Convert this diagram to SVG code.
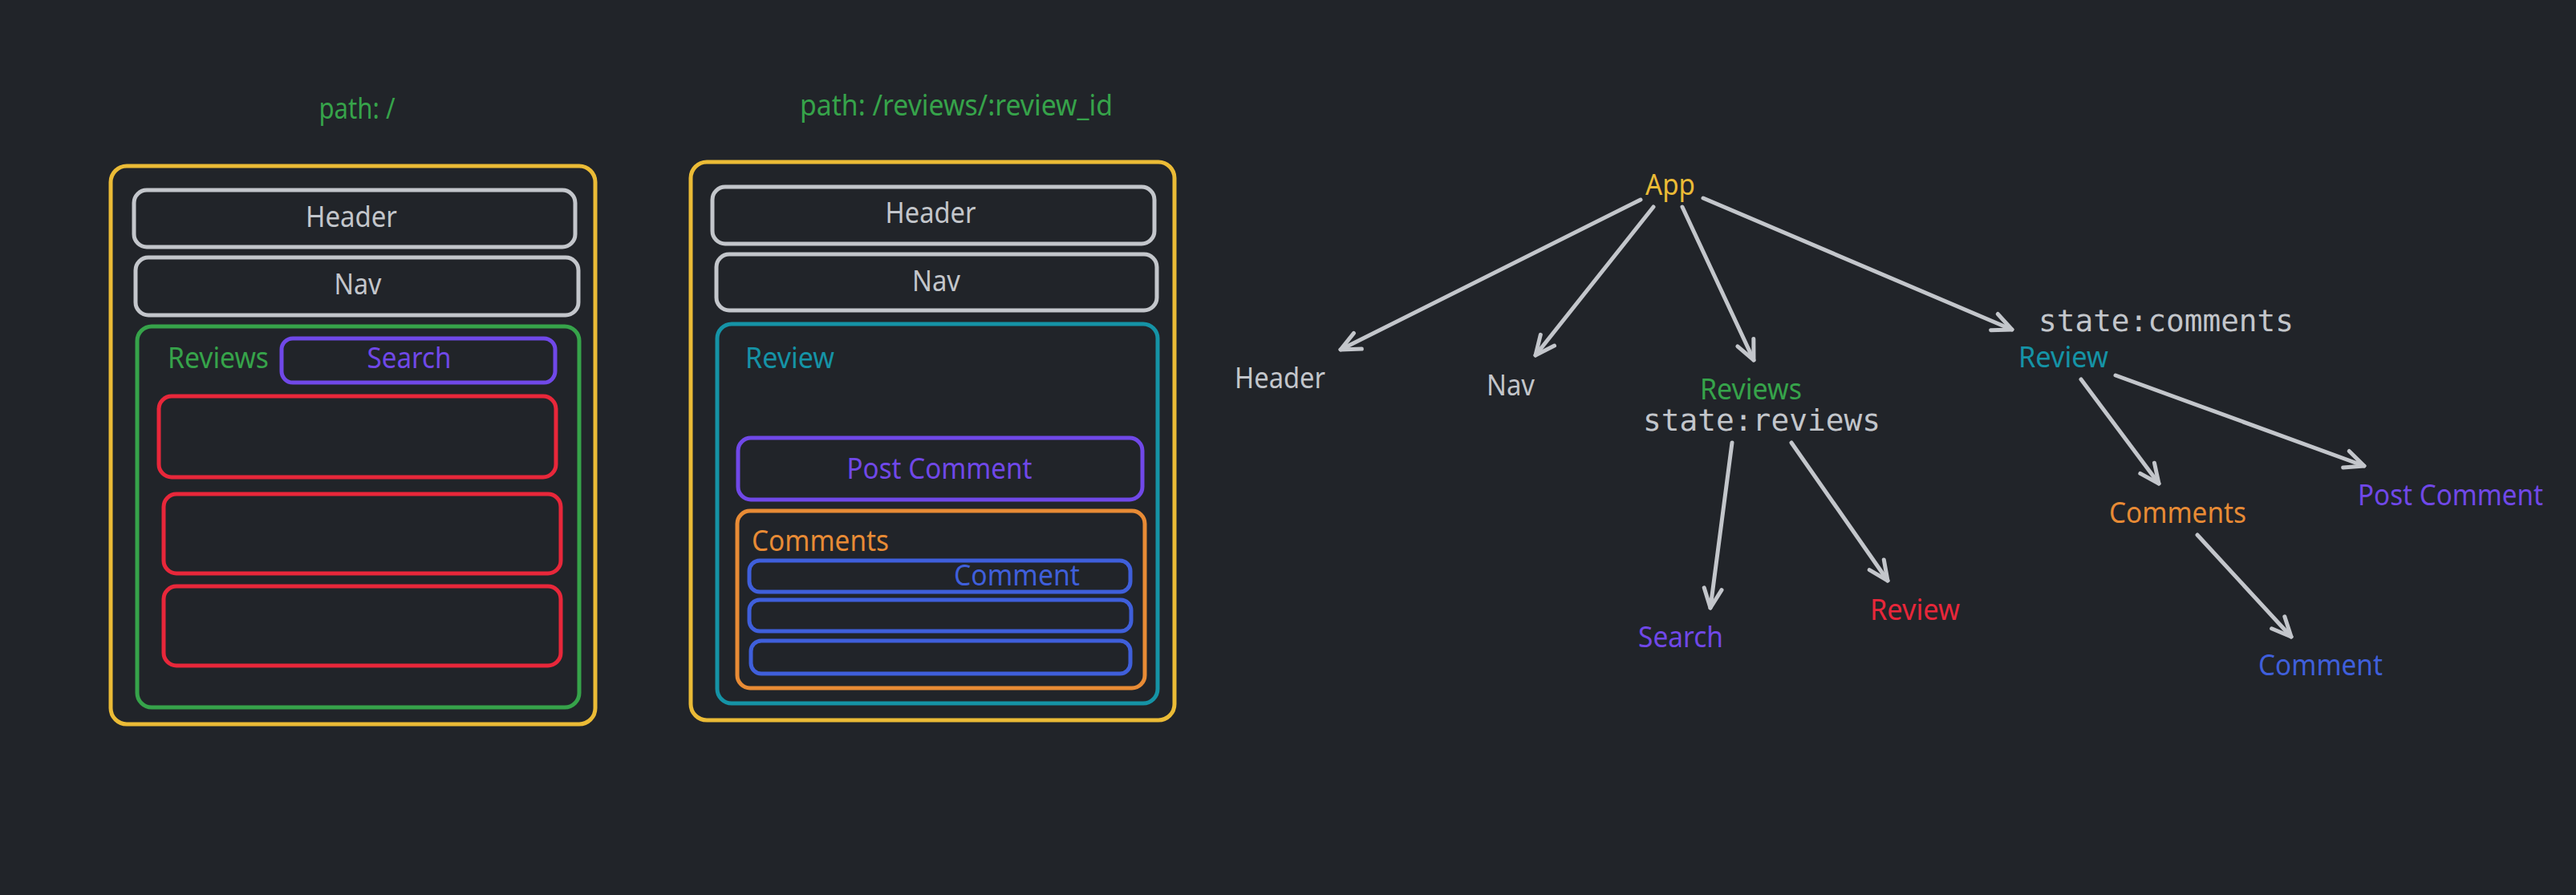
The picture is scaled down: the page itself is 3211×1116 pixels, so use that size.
<svg xmlns="http://www.w3.org/2000/svg" width="3211" height="1116" viewBox="0 0 3211 1116">
<style>
.bx{fill:none;stroke-width:5;stroke-linejoin:round}
.y{stroke:#ebbb36}.g{stroke:#c3c6cb}.gr{stroke:#36a34a}.pu{stroke:#7048e8}.rd{stroke:#e8273a}.tl{stroke:#1593a6}.or{stroke:#e88b35}.bl{stroke:#3f5fdb}
.t{font-family:"Noto Sans","Open Sans",sans-serif;font-size:36px}
.m{font-family:"DejaVu Sans Mono","Liberation Mono",monospace;font-size:38px;fill:#c3c6cb}
.fy{fill:#ebbb36}.fg{fill:#c3c6cb}.fgr{fill:#36a34a}.fpu{fill:#7048e8}.frd{fill:#e8273a}.ftl{fill:#1593a6}.for{fill:#e88b35}.fbl{fill:#3f5fdb}
.c{text-anchor:middle}
.ar{fill:none;stroke:#c3c6cb;stroke-width:5;stroke-linecap:round;marker-end:url(#ah)}
</style>
<defs>
<marker id="ah" markerUnits="userSpaceOnUse" viewBox="-30 -16 36 32" refX="0" refY="0" markerWidth="36" markerHeight="32" orient="auto">
<path d="M-24 -11 L0 0 L-24 11" fill="none" stroke="#c3c6cb" stroke-width="5" stroke-linecap="round" stroke-linejoin="round"/>
</marker>
</defs>
<rect width="3211" height="1116" fill="#212429"/>

<g id="path-root-label"><text class="t fgr c" x="445" y="148" textLength="95" lengthAdjust="spacingAndGlyphs">path: /</text></g>
<g id="frame1-app">
<rect class="bx y" x="138" y="207" width="604" height="696" rx="20"/>
<g id="f1-header"><rect class="bx g" x="167" y="237" width="550" height="71" rx="16"/><text class="t fg c" x="438" y="283" textLength="114" lengthAdjust="spacingAndGlyphs">Header</text></g>
<g id="f1-nav"><rect class="bx g" x="169" y="321" width="552" height="72" rx="16"/><text class="t fg c" x="446" y="367" textLength="59" lengthAdjust="spacingAndGlyphs">Nav</text></g>
<g id="f1-reviews"><rect class="bx gr" x="171" y="407" width="551" height="475" rx="18"/><text class="t fgr" x="209" y="459" textLength="126" lengthAdjust="spacingAndGlyphs">Reviews</text></g>
<g id="f1-search"><rect class="bx pu" x="351" y="422" width="341" height="55" rx="14"/><text class="t fpu c" x="510" y="459" textLength="105" lengthAdjust="spacingAndGlyphs">Search</text></g>
<g id="f1-review1"><rect class="bx rd" x="198" y="494" width="495" height="101" rx="16"/></g>
<g id="f1-review2"><rect class="bx rd" x="204" y="616" width="495" height="99" rx="16"/></g>
<g id="f1-review3"><rect class="bx rd" x="204" y="731" width="495" height="99" rx="16"/></g>
</g>

<g id="path-review-label"><text class="t fgr" x="997" y="144" textLength="390" lengthAdjust="spacingAndGlyphs">path: /reviews/:review_id</text></g>
<g id="frame2-app">
<rect class="bx y" x="861" y="202" width="603" height="696" rx="20"/>
<g id="f2-header"><rect class="bx g" x="888" y="233" width="551" height="71" rx="16"/><text class="t fg c" x="1160" y="278" textLength="113" lengthAdjust="spacingAndGlyphs">Header</text></g>
<g id="f2-nav"><rect class="bx g" x="893" y="317" width="549" height="70" rx="16"/><text class="t fg c" x="1167" y="363" textLength="60" lengthAdjust="spacingAndGlyphs">Nav</text></g>
<g id="f2-review"><rect class="bx tl" x="894" y="404" width="549" height="473" rx="18"/><text class="t ftl" x="929" y="459" textLength="111" lengthAdjust="spacingAndGlyphs">Review</text></g>
<g id="f2-postcomment"><rect class="bx pu" x="920" y="546" width="504" height="77" rx="16"/><text class="t fpu c" x="1171" y="597" textLength="231" lengthAdjust="spacingAndGlyphs">Post Comment</text></g>
<g id="f2-comments"><rect class="bx or" x="919" y="637" width="508" height="221" rx="16"/><text class="t for" x="937" y="687" textLength="171" lengthAdjust="spacingAndGlyphs">Comments</text></g>
<g id="f2-comment1"><rect class="bx bl" x="934" y="699" width="475" height="39" rx="13"/><text class="t fbl" x="1189" y="730" textLength="157" lengthAdjust="spacingAndGlyphs">Comment</text></g>
<g id="f2-comment2"><rect class="bx bl" x="934" y="748" width="476" height="39" rx="13"/></g>
<g id="f2-comment3"><rect class="bx bl" x="936" y="799" width="473" height="41" rx="13"/></g>
</g>

<g id="connectors">
<line class="ar" x1="2045" y1="249" x2="1671" y2="436"/>
<line class="ar" x1="2061" y1="258" x2="1914" y2="443"/>
<line class="ar" x1="2097" y1="258" x2="2186" y2="449"/>
<line class="ar" x1="2123" y1="247" x2="2508" y2="411"/>
<line class="ar" x1="2159" y1="552" x2="2132" y2="758"/>
<line class="ar" x1="2233" y1="552" x2="2353" y2="724"/>
<line class="ar" x1="2594" y1="473" x2="2691" y2="603"/>
<line class="ar" x1="2637" y1="468" x2="2947" y2="581"/>
<line class="ar" x1="2739" y1="667" x2="2856" y2="794"/>
</g>

<g id="t-app"><text class="t fy" x="2051" y="243" textLength="62" lengthAdjust="spacingAndGlyphs">App</text></g>
<g id="t-header"><text class="t fg" x="1539" y="484" textLength="113" lengthAdjust="spacingAndGlyphs">Header</text></g>
<g id="t-nav"><text class="t fg" x="1853" y="493" textLength="60" lengthAdjust="spacingAndGlyphs">Nav</text></g>
<g id="t-reviews"><text class="t fgr" x="2119" y="498" textLength="127" lengthAdjust="spacingAndGlyphs">Reviews</text><text class="m" x="2048" y="537" textLength="296" lengthAdjust="spacingAndGlyphs">state:reviews</text></g>
<g id="t-review"><text class="m" x="2541" y="413" textLength="318" lengthAdjust="spacingAndGlyphs">state:comments</text><text class="t ftl" x="2516" y="458" textLength="112" lengthAdjust="spacingAndGlyphs">Review</text></g>
<g id="t-search"><text class="t fpu" x="2042" y="807" textLength="106" lengthAdjust="spacingAndGlyphs">Search</text></g>
<g id="t-review-item"><text class="t frd" x="2331" y="773" textLength="112" lengthAdjust="spacingAndGlyphs">Review</text></g>
<g id="t-comments"><text class="t for" x="2629" y="652" textLength="171" lengthAdjust="spacingAndGlyphs">Comments</text></g>
<g id="t-postcomment"><text class="t fpu" x="2939" y="630" textLength="231" lengthAdjust="spacingAndGlyphs">Post Comment</text></g>
<g id="t-comment"><text class="t fbl" x="2815" y="842" textLength="155" lengthAdjust="spacingAndGlyphs">Comment</text></g>
</svg>
